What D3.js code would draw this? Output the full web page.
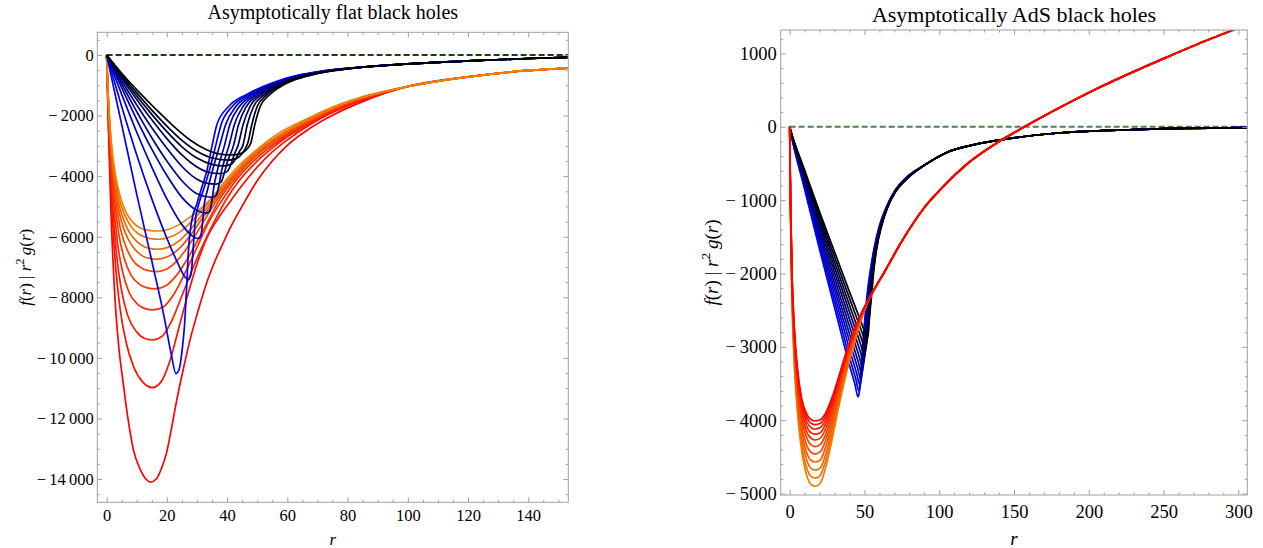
<!DOCTYPE html>
<html>
<head>
<meta charset="utf-8">
<script src="https://cdn.jsdelivr.net/npm/d3@7"></script>
<style>
body { margin: 0; background: #fff; }
svg { display: block; }
svg text { font-family: "Liberation Serif", "Times New Roman", "DejaVu Serif", serif; fill: #000; }
</style>
</head>
<body>
<svg id="viz" width="1263" height="548"></svg>
<script>
const width = 1263;
const height = 548;
const svg = d3.select("#viz").attr("font-family", "Liberation Serif, serif");

// ---- left panel: asymptotically flat ----
// blue -> black family, [r, f]
const flatBlueTail = [[85,-400],[100,-295],[120,-195],[140,-115],[153,-75]];
const flatBlue = [
  [[0,0],[5,-2300],[10,-4600],[15,-6800],[19,-8600],[21.5,-9900],[23,-10520],[24,-10400],[25,-9800],[25.8,-9000],[26.5,-7800],[27.2,-6400],[28.2,-5500],[30,-4900],[31.5,-4400],[33.2,-3850],[35,-3000],[36.6,-2300],[40.5,-1700],[46.5,-1300],[53,-1000],[58.5,-800],[64.5,-650],[72,-520]],
  [[0,0],[5,-1700],[10,-3300],[15,-4750],[20,-6050],[24,-6950],[26,-7330],[27,-7420],[27.8,-7320],[28.3,-7000],[28.8,-6300],[29.4,-5500],[30.5,-4950],[32,-4500],[34,-3850],[36.2,-3000],[38,-2300],[41.7,-1700],[47.4,-1300],[53.6,-1000],[59,-800],[64.9,-650],[72.4,-520]],
  [[0,0],[5,-1300],[10,-2550],[15,-3700],[20,-4750],[25,-5600],[28.5,-5980],[30.4,-6060],[31.3,-5960],[31.8,-5600],[32.4,-4950],[33.5,-4450],[35.2,-3800],[37.5,-3000],[39.5,-2300],[42.9,-1700],[48.2,-1300],[54.2,-1000],[59.5,-800],[65.4,-650],[72.8,-520]],
  [[0,0],[5,-1080],[10,-2130],[15,-3110],[20,-3980],[25,-4700],[30,-5130],[33.2,-5220],[34.3,-5140],[34.9,-4850],[35.6,-4350],[36.8,-3800],[39.1,-3000],[40.9,-2300],[44.1,-1700],[49.1,-1300],[54.8,-1000],[60,-800],[65.8,-650],[73.2,-520]],
  [[0,0],[5,-950],[10,-1870],[15,-2730],[20,-3500],[25,-4150],[30,-4580],[35.1,-4700],[36.4,-4630],[37.2,-4350],[38.1,-3850],[39.2,-3450],[40.6,-3000],[42.4,-2300],[45.3,-1700],[49.9,-1300],[55.4,-1000],[60.5,-800],[66.3,-650],[73.6,-520]],
  [[0,0],[5,-850],[10,-1650],[15,-2400],[20,-3080],[25,-3680],[30,-4100],[33.5,-4240],[36.4,-4262],[38,-4190],[39,-3920],[40.2,-3500],[42.1,-3000],[43.8,-2300],[46.4,-1700],[50.8,-1300],[56.1,-1000],[61,-800],[66.7,-650],[73.9,-520]],
  [[0,0],[5,-760],[10,-1470],[15,-2140],[20,-2760],[25,-3300],[30,-3700],[34,-3880],[37.9,-3917],[40,-3850],[41.3,-3600],[42.5,-3250],[43.6,-3000],[45.3,-2300],[47.6,-1700],[51.6,-1300],[56.7,-1000],[61.5,-800],[67.2,-650],[74.3,-520]],
  [[0,0],[5,-700],[10,-1350],[15,-1960],[20,-2530],[25,-3030],[30,-3400],[35,-3610],[38.9,-3663],[41.5,-3600],[43.1,-3380],[44.3,-3150],[45.2,-3000],[46.7,-2300],[48.8,-1700],[52.5,-1300],[57.3,-1000],[62,-800],[67.6,-650],[74.7,-520]],
  [[0,0],[5,-650],[10,-1250],[15,-1820],[20,-2350],[25,-2820],[30,-3180],[35,-3400],[40.2,-3468],[43,-3420],[45,-3250],[46,-3100],[46.9,-2900],[48.2,-2300],[50,-1700],[53.3,-1300],[57.9,-1000],[62.5,-800],[68.1,-650],[75.1,-520]],
  [[0,0],[5.5,-660],[11,-1250],[16.6,-1815],[22,-2330],[27.7,-2805],[33,-3120],[37,-3260],[41.4,-3300],[44.5,-3250],[46.5,-3120],[47.9,-2900],[49.2,-2300],[51,-1700],[54.2,-1300],[58.5,-1000],[63,-800],[68.5,-650],[75.5,-520]]
];
// red -> orange family
const flatRedTail = [[100,-1040],[120,-720],[140,-510],[153,-430]];
const flatRed = [
  [[0,0],[0.6,-2500],[1.3,-4785],[2.8,-8086],[4,-9600],[5.5,-10830],[7,-11950],[8.9,-13036],[11,-13650],[13,-14000],[14.6,-14100],[16.5,-14000],[18.2,-13650],[19.9,-13135],[21.5,-12350],[23.3,-11386],[25.5,-10350],[27.7,-9406],[30.5,-8400],[33.2,-7525],[36,-6800],[38.7,-6205],[41.5,-5620],[44.3,-5115],[50,-4150],[55,-3500],[60,-2980],[67.5,-2420],[75,-1990],[85,-1540]],
  [[0,0],[0.6,-2200],[1.6,-4785],[3,-7000],[4.5,-8400],[6.5,-9500],[9,-10300],[12,-10800],[15.2,-10980],[18,-10800],[21,-10100],[24,-9000],[27,-7900],[30,-6900],[33.5,-6000],[37,-5400],[41.4,-4785],[45,-4300],[50,-3700],[55,-3200],[60,-2800],[67.5,-2300],[75,-1900],[85,-1480]],
  [[0,0],[0.6,-2000],[1.9,-4785],[3.3,-6600],[5,-7800],[7,-8600],[10,-9150],[12.5,-9350],[15.3,-9406],[18.5,-9280],[21.5,-8800],[25,-7950],[29,-6950],[33,-6050],[36.5,-5350],[39.6,-4785],[44,-4150],[49,-3600],[54,-3150],[60,-2700],[67.5,-2250],[75,-1860],[85,-1460]],
  [[0,0],[0.6,-1850],[2.2,-4785],[3.6,-6200],[5.3,-7150],[7.5,-7850],[10.5,-8250],[13,-8380],[15.5,-8416],[18.8,-8320],[22,-7950],[26,-7200],[30,-6350],[34,-5500],[38.4,-4785],[43,-4130],[48,-3580],[53.5,-3100],[60,-2650],[67.5,-2210],[75,-1830],[85,-1440]],
  [[0,0],[0.6,-1700],[2.6,-4785],[4,-5900],[5.8,-6700],[8,-7250],[11,-7580],[13.5,-7690],[16.1,-7723],[19.5,-7630],[23,-7300],[27,-6700],[31,-5980],[34.5,-5330],[37.4,-4785],[42,-4150],[47,-3580],[53,-3060],[60,-2600],[67.5,-2180],[75,-1810],[85,-1430]],
  [[0,0],[0.6,-1600],[3,-4785],[4.5,-5700],[6.3,-6300],[8.5,-6750],[11.5,-7030],[14,-7120],[16.3,-7151],[19.8,-7070],[23.5,-6780],[27.5,-6250],[31.5,-5620],[34,-5200],[36.6,-4785],[41,-4180],[46,-3600],[52,-3070],[59,-2600],[67.5,-2160],[75,-1790],[85,-1420]],
  [[0,0],[0.6,-1500],[3.4,-4785],[5,-5520],[7,-6050],[9.5,-6430],[12,-6640],[14.5,-6720],[16.5,-6743],[20,-6670],[24,-6400],[28,-5930],[31.5,-5430],[35.9,-4785],[40.5,-4200],[45.5,-3620],[51.5,-3090],[58.5,-2610],[67.5,-2140],[75,-1770],[85,-1410]],
  [[0,0],[0.55,-1450],[3.8,-4785],[5.5,-5400],[7.5,-5850],[10,-6150],[12.5,-6330],[14.8,-6395],[16.8,-6413],[20.3,-6350],[24.3,-6120],[28.3,-5700],[32,-5230],[35.3,-4785],[40,-4200],[45,-3640],[51,-3100],[58,-2620],[67.5,-2120],[75,-1750],[85,-1400]],
  [[0,0],[0.5,-1380],[4.3,-4785],[6,-5280],[8,-5650],[10.5,-5900],[13,-6020],[15,-6070],[17.1,-6083],[20.5,-6030],[24.5,-5830],[28.5,-5470],[32,-5080],[34.8,-4785],[39.5,-4230],[44.5,-3680],[50.5,-3120],[57.5,-2640],[67.5,-2100],[75,-1740],[85,-1390]],
  [[0,0],[0.5,-1300],[1.2,-2500],[2.5,-3700],[4.85,-4785],[6.5,-5200],[8.5,-5500],[11,-5700],[14,-5790],[17.1,-5810],[20.5,-5760],[24,-5600],[28,-5330],[31,-5080],[34.3,-4785],[39,-4200],[44,-3650],[49.8,-3130],[56.5,-2620],[67.5,-2060],[75,-1720],[85,-1380]]
];

// ---- right panel: asymptotically AdS ----
const adsBlueTail = [[90,-525],[105,-350],[129,-220],[150,-150],[178,-88],[227,-40],[306,-12]];
const adsBlue = [
  [[0,0],[1,-105],[10,-853],[20,-1674],[30,-2463],[40,-3252],[43.7,-3518],[45.7,-3680],[46.6,-3610],[47.3,-3420],[48.8,-3000],[50.3,-2600],[52,-2250],[54,-1950],[56.5,-1650],[60,-1350],[64.5,-1100],[70,-880],[78,-690]],
  [[0,0],[1,-101],[10,-825],[20,-1618],[30,-2381],[40,-3143],[44.3,-3446],[46.3,-3600],[47.2,-3530],[47.9,-3340],[49.2,-3000],[50.7,-2600],[52.3,-2250],[54.2,-1950],[56.7,-1650],[60.2,-1350],[64.6,-1100],[70.1,-880],[78.2,-690]],
  [[0,0],[1,-98],[10,-796],[20,-1562],[30,-2298],[40,-3034],[44.9,-3372],[46.9,-3520],[47.8,-3450],[48.5,-3260],[49.6,-3000],[51,-2600],[52.6,-2250],[54.5,-1950],[56.9,-1650],[60.3,-1350],[64.7,-1100],[70.2,-880],[78.3,-690]],
  [[0,0],[1,-94],[10,-767],[20,-1506],[30,-2215],[40,-2925],[45.5,-3294],[47.5,-3440],[48.4,-3370],[49.1,-3180],[50,-3000],[51.4,-2600],[52.9,-2250],[54.7,-1950],[57,-1650],[60.5,-1350],[64.8,-1100],[70.3,-880],[78.5,-690]],
  [[0,0],[1,-91],[10,-741],[20,-1454],[30,-2139],[40,-2824],[46.1,-3222],[48.1,-3360],[49,-3290],[49.7,-3100],[51.8,-2600],[53.2,-2250],[54.9,-1950],[57.2,-1650],[60.6,-1350],[64.9,-1100],[70.4,-880],[78.6,-690]],
  [[0,0],[1,-88],[10,-714],[20,-1402],[30,-2062],[40,-2723],[46.7,-3147],[48.7,-3280],[49.6,-3210],[50.3,-3020],[52.2,-2600],[53.5,-2250],[55.2,-1950],[57.4,-1650],[60.8,-1350],[65,-1100],[70.5,-880],[78.8,-690]],
  [[0,0],[1,-84],[10,-688],[20,-1350],[30,-1986],[40,-2622],[47.3,-3070],[49.3,-3200],[50.2,-3130],[50.9,-2940],[52.5,-2600],[53.8,-2250],[55.4,-1950],[57.6,-1650],[60.9,-1350],[65.1,-1100],[70.6,-880],[78.9,-690]],
  [[0,0],[1,-81],[10,-663],[20,-1300],[30,-1913],[40,-2525],[47.9,-2994],[49.9,-3120],[50.8,-3050],[51.5,-2860],[52.9,-2600],[54.1,-2250],[55.6,-1950],[57.8,-1650],[61.1,-1350],[65.2,-1100],[70.7,-880],[79.1,-690]],
  [[0,0],[1,-78],[10,-638],[20,-1252],[30,-1842],[40,-2432],[48.5,-2920],[50.5,-3040],[51.4,-2970],[52.1,-2780],[53.2,-2600],[54.4,-2250],[55.8,-1950],[58,-1650],[61.2,-1350],[65.3,-1100],[70.8,-880],[79.2,-690]],
  [[0,0],[1,-75],[10,-614],[20,-1204],[30,-1772],[40,-2339],[49.1,-2843],[51.1,-2960],[52,-2890],[52.7,-2700],[54.7,-2250],[56.1,-1950],[58.1,-1650],[61.4,-1350],[65.4,-1100],[70.9,-880],[79.4,-690]],
  [[0,0],[1,-72],[10,-590],[20,-1159],[30,-1704],[40,-2250],[49.7,-2768],[51.7,-2880],[52.6,-2810],[53.3,-2620],[55,-2250],[56.3,-1950],[58.3,-1650],[61.5,-1350],[65.5,-1100],[71,-880],[79.5,-690]]
];
// orange (deepest) ... red (shallowest), red drawn last
const adsRedTail = [[57,-2200],[62.8,-2000],[75,-1560],[89.7,-1110],[102,-830],[119,-500],[140,-200],[157,0],[180,255],[207,535],[250,930],[273,1130],[294,1300],[306,1400]];
const adsRed = [
  [[0,0],[0.6,-1250],[1.5,-2300],[3,-3200],[5,-3850],[8,-4420],[11.5,-4760],[14.5,-4880],[17.5,-4900],[20.5,-4860],[24,-4650],[28,-4300],[33,-3800],[38,-3350],[43,-2970],[47.5,-2650],[52,-2400]],
  [[0,0],[0.6,-1220],[1.5,-2260],[3,-3140],[5,-3780],[8,-4330],[11.5,-4660],[14.5,-4770],[17.4,-4790],[20.5,-4750],[24,-4560],[28,-4230],[33,-3750],[38,-3310],[43,-2950],[47.5,-2640],[52,-2400]],
  [[0,0],[0.6,-1190],[1.5,-2210],[3,-3080],[5,-3700],[8,-4240],[11.5,-4550],[14.5,-4660],[17.4,-4680],[20.5,-4650],[24,-4470],[28,-4150],[33,-3700],[38,-3280],[43,-2920],[47.5,-2630],[52,-2395]],
  [[0,0],[0.6,-1160],[1.5,-2170],[3,-3020],[5,-3630],[8,-4150],[11.5,-4450],[14.5,-4550],[17.3,-4570],[20.5,-4540],[24,-4370],[28,-4080],[33,-3650],[38,-3240],[43,-2900],[47.5,-2620],[52,-2393]],
  [[0,0],[0.6,-1130],[1.5,-2130],[3,-2950],[5,-3550],[8,-4060],[11.5,-4350],[14.5,-4440],[17.3,-4460],[20.5,-4430],[24,-4280],[28,-4010],[33,-3600],[38,-3210],[43,-2880],[47.5,-2605],[52,-2390]],
  [[0,0],[0.6,-1100],[1.5,-2090],[3,-2900],[5,-3490],[8,-3980],[11.5,-4250],[14.5,-4340],[17.2,-4360],[20.5,-4330],[24,-4200],[28,-3940],[33,-3555],[38,-3175],[43,-2855],[47.5,-2595],[52,-2388]],
  [[0,0],[0.6,-1070],[1.5,-2050],[3,-2850],[5,-3430],[8,-3910],[11.5,-4170],[14.5,-4250],[17.2,-4270],[20.5,-4245],[24,-4120],[28,-3880],[33,-3510],[38,-3145],[43,-2835],[47.5,-2585],[52,-2386]],
  [[0,0],[0.6,-1050],[1.5,-2020],[3,-2800],[5,-3370],[8,-3850],[11.5,-4090],[14.5,-4175],[17.1,-4190],[20.5,-4170],[24,-4055],[28,-3830],[33,-3475],[38,-3120],[43,-2820],[47.5,-2578],[52,-2384]],
  [[0,0],[0.6,-1030],[1.5,-1990],[3,-2760],[5,-3320],[8,-3790],[11.5,-4025],[14.5,-4105],[17.1,-4120],[20.5,-4100],[24,-4000],[28,-3785],[33,-3445],[38,-3095],[43,-2805],[47.5,-2571],[52,-2382]],
  [[0,0],[0.6,-1015],[1.5,-1970],[3,-2730],[5,-3285],[8,-3740],[11.5,-3965],[14.5,-4045],[17,-4060],[20.5,-4042],[24,-3947],[28,-3743],[33,-3418],[38,-3076],[43,-2791],[47.5,-2565],[52,-2381]],
  [[0,0],[0.6,-1000],[1.5,-1950],[3,-2700],[5,-3250],[8,-3700],[11.5,-3920],[14.5,-3995],[17,-4010],[20.5,-3993],[24,-3905],[28,-3710],[33,-3395],[38,-3060],[43,-2780],[47.5,-2560],[52,-2380]]
];

// tick labels
const flatXTicks = [0, 20, 40, 60, 80, 100, 120, 140];
const flatYTicks = [0, -2000, -4000, -6000, -8000, -10000, -12000, -14000];
const adsXTicks = [0, 50, 100, 150, 200, 250, 300];
const adsYTicks = [1000, 0, -1000, -2000, -3000, -4000, -5000];

// Mathematica style numbers: "− 2000", "− 10 000"
function fmt(v) {
  const a = Math.abs(v);
  const s = a >= 10000 ? Math.floor(a / 1000) + "\u2009" + d3.format("03d")(a % 1000) : String(a);
  return (v < 0 ? "\u2212\u2009" : "") + s;
}

const panels = [
  {
    id: "flat", title: "Asymptotically flat black holes",
    x0: 97.3, x1: 568.3, y0: 32.3, y1: 502.3,
    xDomain: [-3.1, 153.3], yDomain: [-14768, 750],
    xTicks: flatXTicks, yTicks: flatYTicks, xMinor: 5, yMinor: 500,
    zeroColor: "#0f440f", zeroWidth: 2,
    tickFont: 16.5, titleFont: 20, labelFont: 17,
    xPad: 6.7, yPad: 3.5, ylabX: 30.5, titleY: 19,
    families: [
      { curves: flatRed.map(c => c.concat(flatRedTail)), from: "#ff0000", to: "#f08000" },
      { curves: flatBlue.map(c => c.concat(flatBlueTail)), from: "#0000ff", to: "#000000" }
    ]
  },
  {
    id: "ads", title: "Asymptotically AdS black holes",
    x0: 780.7, x1: 1247.3, y0: 30, y1: 495,
    xDomain: [-6, 306], yDomain: [-5020, 1320],
    xTicks: adsXTicks, yTicks: adsYTicks, xMinor: 10, yMinor: 200,
    zeroColor: "#4f7f4f", zeroWidth: 2,
    tickFont: 18.5, titleFont: 22, labelFont: 19,
    xPad: 9.5, yPad: 4, ylabX: 718, titleY: 22,
    families: [
      { curves: adsBlue.map(c => c.concat(adsBlueTail)), from: "#0000ff", to: "#000000" },
      { curves: adsRed.map(c => c.concat(adsRedTail)), from: "#f08000", to: "#ff0000" }
    ]
  }
];

function minorValues(domain, step) {
  const lo = Math.ceil(domain[0] / step) * step;
  return d3.range(lo, domain[1] + 1e-9, step);
}

panels.forEach(p => {
  const x = d3.scaleLinear().domain(p.xDomain).range([p.x0, p.x1]);
  const y = d3.scaleLinear().domain(p.yDomain).range([p.y1, p.y0]);
  const g = svg.append("g");

  g.append("clipPath").attr("id", "clip-" + p.id)
    .append("rect")
    .attr("x", p.x0).attr("y", p.y0)
    .attr("width", p.x1 - p.x0).attr("height", p.y1 - p.y0);

  const plot = g.append("g").attr("clip-path", `url(#clip-${p.id})`);

  // zero line
  plot.append("line")
    .attr("x1", x(0)).attr("x2", x(p.xDomain[1]))
    .attr("y1", y(0)).attr("y2", y(0))
    .attr("stroke", p.zeroColor)
    .attr("stroke-width", p.zeroWidth)
    .attr("stroke-dasharray", "6,3");

  const line = d3.line()
    .x(d => x(d[0]))
    .y(d => y(d[1]))
    .curve(d3.curveMonotoneX);

  p.families.forEach(f => {
    const col = d3.interpolateRgb(f.from, f.to);
    const n = f.curves.length;
    plot.selectAll(null)
      .data(f.curves)
      .enter().append("path")
      .attr("d", line)
      .attr("fill", "none")
      .attr("stroke", (d, i) => col(i / (n - 1)))
      .attr("stroke-width", 1.7);
  });

  // frame
  g.append("rect")
    .attr("x", p.x0).attr("y", p.y0)
    .attr("width", p.x1 - p.x0).attr("height", p.y1 - p.y0)
    .attr("fill", "none").attr("stroke", "#a0a0a0").attr("stroke-width", 1);

  // ticks on all four sides, labels on left and bottom
  const xMin = minorValues(p.xDomain, p.xMinor).filter(v => !p.xTicks.includes(v));
  const yMin = minorValues(p.yDomain, p.yMinor).filter(v => !p.yTicks.includes(v));
  const sides = [
    { axis: d3.axisBottom(x), at: `translate(0,${p.y1})`, major: p.xTicks, minor: xMin, labels: true, pad: p.xPad },
    { axis: d3.axisTop(x), at: `translate(0,${p.y0})`, major: p.xTicks, minor: xMin, labels: false, pad: 0 },
    { axis: d3.axisLeft(y), at: `translate(${p.x0},0)`, major: p.yTicks, minor: yMin, labels: true, pad: p.yPad },
    { axis: d3.axisRight(y), at: `translate(${p.x1},0)`, major: p.yTicks, minor: yMin, labels: false, pad: 0 }
  ];
  sides.forEach(s => {
    const maj = g.append("g").attr("transform", s.at)
      .call(s.axis.tickValues(s.major).tickSize(-5).tickPadding(s.pad)
        .tickFormat(s.labels ? fmt : () => ""));
    const mnr = g.append("g").attr("transform", s.at)
      .call(s.axis.tickValues(s.minor).tickSize(-2.5).tickFormat(() => ""));
    [maj, mnr].forEach(a => {
      a.attr("font-family", null).attr("font-size", null);
      a.select(".domain").remove();
      a.selectAll("line").attr("stroke", "#a0a0a0");
    });
    maj.selectAll("text").style("font-size", p.tickFont + "px");
  });

  // titles and axis labels
  g.append("text")
    .attr("x", (p.x0 + p.x1) / 2).attr("y", p.titleY)
    .attr("text-anchor", "middle")
    .style("font-size", p.titleFont + "px")
    .text(p.title);

  g.append("text")
    .attr("x", (p.x0 + p.x1) / 2).attr("y", 545)
    .attr("text-anchor", "middle")
    .style("font-size", p.labelFont + "px").style("font-style", "italic")
    .text("r");

  const yl = g.append("text")
    .attr("transform", `translate(${p.ylabX},${(p.y0 + p.y1) / 2}) rotate(-90)`)
    .attr("text-anchor", "middle")
    .style("font-size", p.labelFont + "px");
  const it = t => yl.append("tspan").style("font-style", "italic").text(t);
  const up = t => yl.append("tspan").text(t);
  it("f"); up("("); it("r"); up(") | "); it("r");
  yl.append("tspan").attr("dy", -p.labelFont * 0.4).style("font-size", (p.labelFont * 0.7) + "px").text("2");
  yl.append("tspan").attr("dy", p.labelFont * 0.4).text("\u2009");
  it("g"); up("("); it("r"); up(")");
});
</script>
</body>
</html>
